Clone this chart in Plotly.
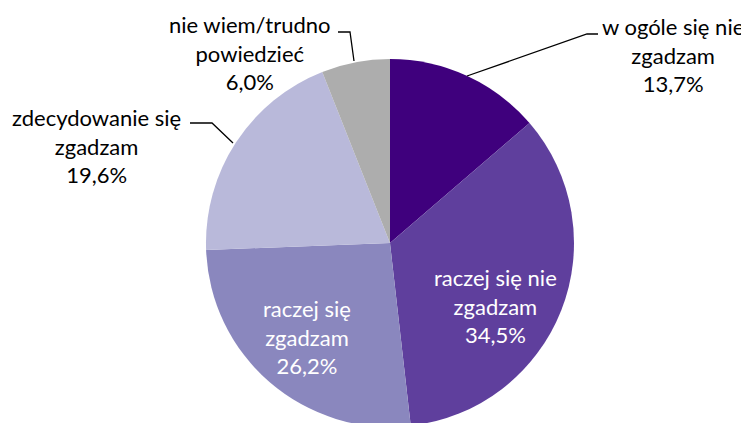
import plotly.graph_objects as go

W, H = 749, 423
OFF = 8  # page body margin shifts the figure by this many pixels

labels = ["w ogóle się nie<br>zgadzam", "raczej się nie<br>zgadzam", "raczej się<br>zgadzam",
          "zdecydowanie się<br>zgadzam", "nie wiem/trudno<br>powiedzieć"]
values = [13.7, 34.5, 26.2, 19.6, 6.0]
colors = ["#3F007D", "#5F3F9D", "#8A87BE", "#B9B9DA", "#ADADAD"]

# label centres in screen pixels (x, y from top), text colour
label_pos = [(673, 55), (495, 306), (307, 337), (96, 146), (250, 53)]
label_col = ["black", "white", "white", "black", "black"]

# leader lines in screen pixels
leaders = [
    [(467, 76), (587, 34), (598, 34)],
    None,
    None,
    [(233, 143), (212, 123), (190, 123)],
    [(354, 61), (350, 32), (338, 32)],
]


def px(x, y):
    return (x - OFF) / W, 1 - (y - OFF) / H


fig = go.Figure(go.Pie(
    labels=labels,
    values=values,
    sort=False,
    direction="clockwise",
    rotation=0,
    marker=dict(colors=colors, line=dict(width=0)),
    textinfo="none",
    hoverinfo="label+value",
    domain=dict(x=[0.2643, 0.7557], y=[0.0094, 0.8794]),
))

for lab, v, (x, y), c in zip(labels, values, label_pos, label_col):
    ax, ay = px(x, y)
    fig.add_annotation(
        text=f"{lab}<br>{v:.1f}%".replace(".", ","),
        x=ax, y=ay, xref="paper", yref="paper",
        xanchor="center", yanchor="middle", showarrow=False,
        font=dict(color=c, size=22, family="Lato"),
    )

for pts in leaders:
    if pts is None:
        continue
    path = "M " + " L ".join(f"{px(x, y)[0]},{px(x, y)[1]}" for x, y in pts)
    fig.add_shape(type="path", path=path, xref="paper", yref="paper",
                  line=dict(color="black", width=1.3))

fig.update_layout(
    width=W, height=H,
    margin=dict(l=0, r=0, t=0, b=0),
    showlegend=False,
    paper_bgcolor="white",
    font=dict(family="Lato"),
)

fig.write_html("out.html")
